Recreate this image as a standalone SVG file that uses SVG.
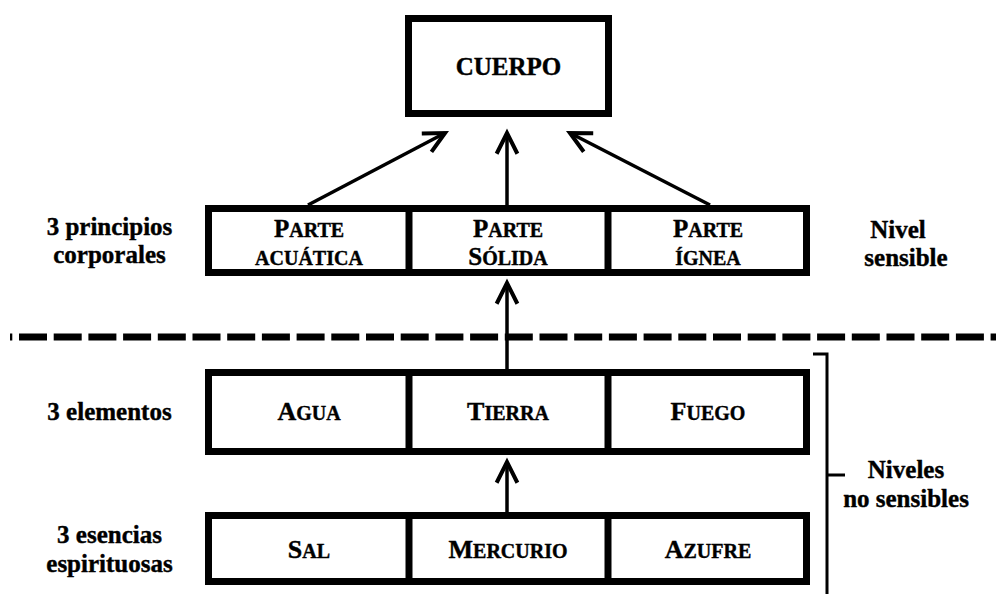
<svg xmlns="http://www.w3.org/2000/svg" width="996" height="594" viewBox="0 0 996 594">
<style>
.box{fill:#fff;stroke:#000;stroke-width:7}
.div{stroke:#000;stroke-width:7}
.t{font-family:"Liberation Serif","Times New Roman",serif;font-weight:bold;fill:#000;text-anchor:middle;stroke:#000;stroke-width:0.4px}
.cell{font-size:26px}
.cell2{font-size:25px}
.sc{font-size:20px}
.sc2{font-size:20px}
.lbl{font-size:25px}
.conn{stroke:#000;stroke-width:3.5;fill:none}
</style>
<defs>
<marker id="arr" markerUnits="userSpaceOnUse" markerWidth="30" markerHeight="30" viewBox="-22 -12 26 24" refX="0" refY="0" orient="auto">
<path d="M-18,-9 L0,0 L-18,9" fill="none" stroke="#000" stroke-width="3.5" stroke-linejoin="miter"/>
</marker>
</defs>
<rect width="996" height="594" fill="#fff"/>

<g id="separator">
<line x1="10" y1="337" x2="996" y2="337" stroke="#000" stroke-width="7" stroke-dasharray="28 6.7" stroke-dashoffset="25.7"/>
</g>

<g id="connectors">
<line class="conn" x1="308" y1="205" x2="445" y2="133" marker-end="url(#arr)"/>
<line class="conn" x1="507" y1="205" x2="507" y2="133" marker-end="url(#arr)"/>
<line class="conn" x1="710" y1="205" x2="570" y2="133" marker-end="url(#arr)"/>
<line class="conn" x1="507" y1="369" x2="507" y2="283" marker-end="url(#arr)"/>
<line class="conn" x1="507" y1="512" x2="507" y2="462" marker-end="url(#arr)"/>
</g>

<g id="cuerpo">
<rect class="box" x="408.5" y="18.5" width="200" height="95"/>
<text class="t" x="508.5" y="75" font-size="25">CUERPO</text>
</g>

<g id="principios">
<rect class="box" x="208.5" y="208.5" width="598" height="64"/>
<line class="div" x1="409" y1="208.5" x2="409" y2="272.5"/>
<line class="div" x1="608" y1="208.5" x2="608" y2="272.5"/>
</g>
<g id="parte-acuatica">
<text class="t cell2" x="309" y="237">P<tspan class="sc2">ARTE</tspan></text>
<text class="t cell2" x="309" y="265"><tspan class="sc2">ACUÁTICA</tspan></text>
</g>
<g id="parte-solida">
<text class="t cell2" x="508" y="237">P<tspan class="sc2">ARTE</tspan></text>
<text class="t cell2" x="508" y="265">S<tspan class="sc2">ÓLIDA</tspan></text>
</g>
<g id="parte-ignea">
<text class="t cell2" x="708" y="237">P<tspan class="sc2">ARTE</tspan></text>
<text class="t cell2" x="708" y="265"><tspan class="sc2">ÍGNEA</tspan></text>
</g>

<g id="elementos">
<rect class="box" x="208.5" y="372.5" width="598" height="79"/>
<line class="div" x1="409" y1="372.5" x2="409" y2="451.5"/>
<line class="div" x1="608" y1="372.5" x2="608" y2="451.5"/>
</g>
<g id="agua"><text class="t cell" x="309" y="420">A<tspan class="sc">GUA</tspan></text></g>
<g id="tierra"><text class="t cell" x="508" y="420">T<tspan class="sc">IERRA</tspan></text></g>
<g id="fuego"><text class="t cell" x="708" y="420">F<tspan class="sc">UEGO</tspan></text></g>

<g id="esencias">
<rect class="box" x="208.5" y="515.5" width="598" height="66"/>
<line class="div" x1="409" y1="515.5" x2="409" y2="581.5"/>
<line class="div" x1="608" y1="515.5" x2="608" y2="581.5"/>
</g>
<g id="sal"><text class="t cell" x="309" y="558">S<tspan class="sc">AL</tspan></text></g>
<g id="mercurio"><text class="t cell" x="508" y="558">M<tspan class="sc">ERCURIO</tspan></text></g>
<g id="azufre"><text class="t cell" x="708" y="558">A<tspan class="sc">ZUFRE</tspan></text></g>

<g id="labels">
<text class="t lbl" x="109.5" y="235">3 principios</text>
<text class="t lbl" x="109.5" y="263">corporales</text>
<text class="t lbl" x="109.5" y="420">3 elementos</text>
<text class="t lbl" x="109.5" y="543">3 esencias</text>
<text class="t lbl" x="109.5" y="572">espirituosas</text>
<text class="t lbl" x="898" y="238">Nivel</text>
<text class="t lbl" x="906" y="266">sensible</text>
<text class="t lbl" x="906" y="478">Niveles</text>
<text class="t lbl" x="906" y="507">no sensibles</text>
</g>

<g id="bracket" fill="none" stroke="#000" stroke-width="3">
<path d="M813,354 H827 V594"/>
<line x1="827" y1="475" x2="845" y2="475"/>
</g>
</svg>
